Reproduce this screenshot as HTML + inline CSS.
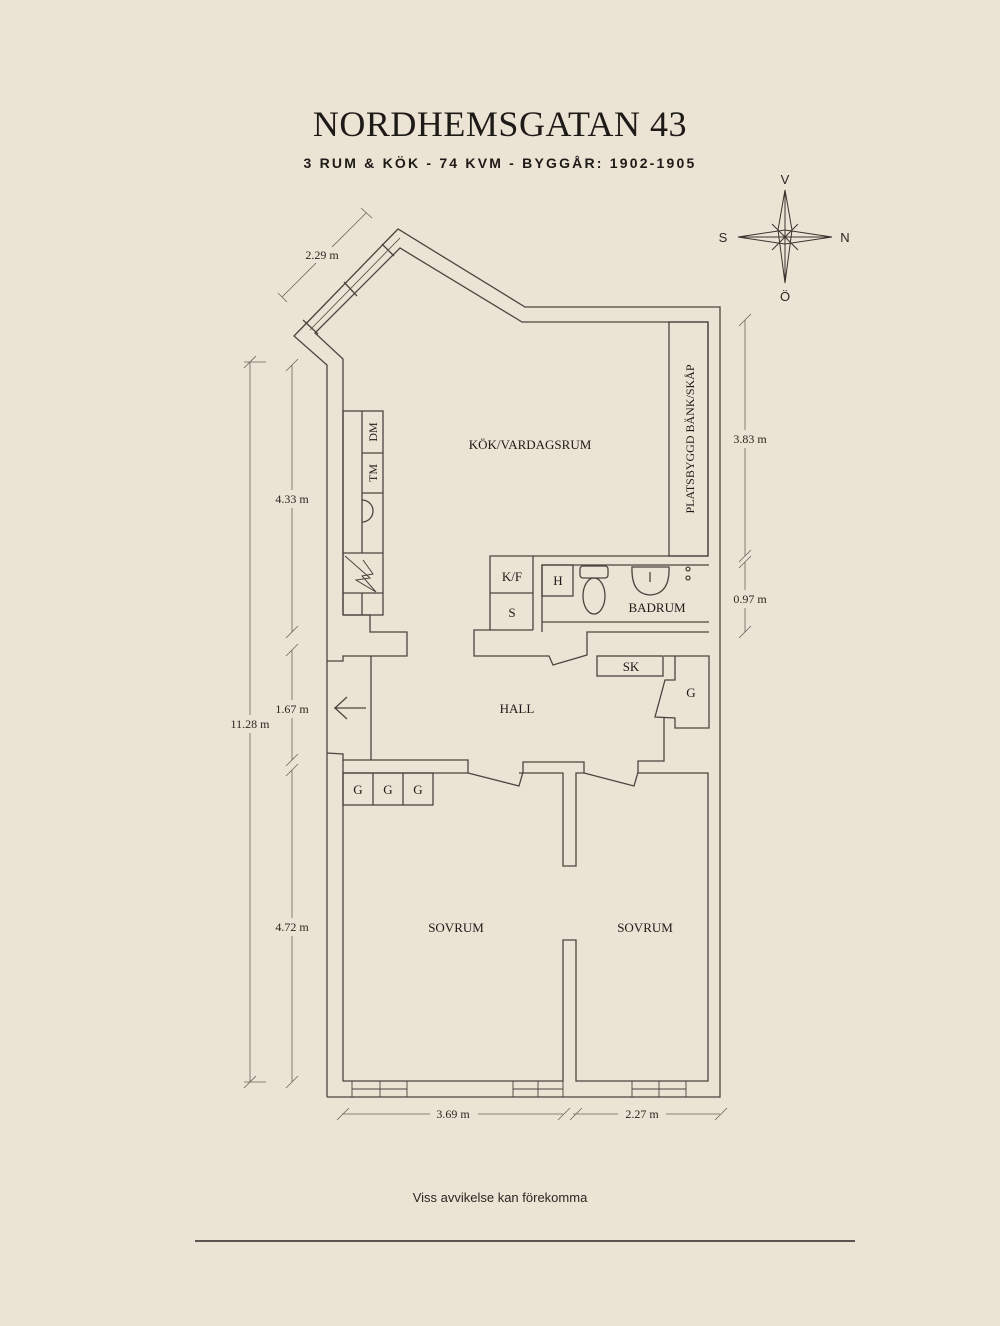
<!DOCTYPE html>
<html><head><meta charset="utf-8"><style>
html,body{margin:0;padding:0;background:#ebe3d3;}
svg{display:block}
</style></head><body>
<svg width="1000" height="1326" viewBox="0 0 1000 1326" xmlns="http://www.w3.org/2000/svg">
<rect width="1000" height="1326" fill="#ebe3d3"/>
<text x="500" y="136" text-anchor="middle" font-family="Liberation Serif, serif" font-size="36" fill="#1e1a17" letter-spacing="0.5">NORDHEMSGATAN 43</text>
<text x="500" y="168" text-anchor="middle" font-family="Liberation Sans, sans-serif" font-weight="bold" font-size="14" fill="#1e1a17" letter-spacing="2.2">3 RUM &amp; KÖK  -  74 KVM  -  BYGGÅR: 1902-1905</text>

<g fill="none" stroke="#4a4540" stroke-width="1.3">
<polyline points="327,1097 327,365 294,336 398,229 525,307 720,307 720,1097 327,1097"/>
<polyline points="343,615 343,359 315,333 400,248 522,322 708,322 708,556 490,556 490,630 474,630 474,656 549,656 553,665 587,655 587,632 709,632"/>
<polyline points="343,615 370,615 370,632 407,632 407,656 371,656 371,760"/>
<rect x="669" y="322" width="39" height="234"/>
<line x1="305" y1="325" x2="398" y2="229" stroke-width="0.8"/>
<line x1="310" y1="330" x2="400" y2="238" stroke-width="0.8"/>
<line x1="303" y1="320" x2="318" y2="334"/>
<line x1="344" y1="282" x2="357" y2="296"/>
<line x1="382" y1="244" x2="394" y2="256"/>
<rect x="343" y="411" width="40" height="204"/>
<line x1="362" y1="411" x2="362" y2="553"/>
<line x1="362" y1="453" x2="383" y2="453"/>
<line x1="362" y1="493" x2="383" y2="493"/>
<line x1="343" y1="553" x2="383" y2="553"/>
<line x1="343" y1="593" x2="383" y2="593"/>
<line x1="362" y1="593" x2="362" y2="615"/>
<path d="M362,500 A11,11 0 0 1 362,522"/>
<polyline points="345,556 370,578 356,580 376,592 362,576 373,574 363,560" stroke-width="1"/>
<line x1="490" y1="593" x2="533" y2="593"/>
<line x1="533" y1="556" x2="533" y2="630"/>
<line x1="490" y1="630" x2="533" y2="630"/>
<polyline points="542,632 542,565 709,565"/>
<polyline points="542,622 709,622"/>
<rect x="542" y="565" width="31" height="31"/>
<rect x="580" y="566" width="28" height="12" rx="3"/>
<ellipse cx="594" cy="596" rx="11" ry="18"/>
<path d="M632,567 L669,567 Q670,594 650,595 Q631,594 632,567Z"/>
<line x1="650" y1="572" x2="650" y2="582"/>
<circle cx="688" cy="569" r="2"/><circle cx="688" cy="578" r="2"/>
<rect x="597" y="656" width="66" height="20"/>
<polyline points="664,656 709,656 709,728 675,728 675,718 655,717 665,680 675,680 675,656"/>
<polyline points="327,661 343,661 343,656 371,656"/>
<polyline points="327,753 343,754 343,760 371,760"/>
<line x1="334" y1="708" x2="366" y2="708"/><polyline points="347,697 335,708 347,719"/>
<polyline points="371,760 468,760 468,773 519,786 523,772 523,762 584,762 584,773 634,786 638,772 638,761 664,761 664,718"/>
<polyline points="343,760 343,1081 563,1081 563,940 576,940 576,1081 708,1081 708,773 638,773"/>
<polyline points="343,773 468,773"/>
<polyline points="519,773 563,773 563,866 576,866 576,773 584,773"/>
<rect x="343" y="773" width="90" height="32"/>
<line x1="373" y1="773" x2="373" y2="805"/><line x1="403" y1="773" x2="403" y2="805"/>
<g stroke-width="0.9">
<rect x="352" y="1081" width="55" height="16"/><line x1="352" y1="1089" x2="407" y2="1089"/><line x1="380" y1="1081" x2="380" y2="1097"/>
<rect x="513" y="1081" width="50" height="16"/><line x1="513" y1="1089" x2="563" y2="1089"/><line x1="538" y1="1081" x2="538" y2="1097"/>
<rect x="632" y="1081" width="54" height="16"/><line x1="632" y1="1089" x2="686" y2="1089"/><line x1="659" y1="1081" x2="659" y2="1097"/>
</g>
</g>

<g fill="none" stroke="#6a655e" stroke-width="0.8">
<line x1="250" y1="362" x2="250" y2="1082"/>
<line x1="244" y1="362" x2="266" y2="362"/><line x1="244" y1="1082" x2="266" y2="1082"/>
<line x1="244" y1="368" x2="256" y2="356"/><line x1="244" y1="1088" x2="256" y2="1076"/>
<line x1="292" y1="365" x2="292" y2="632"/><line x1="292" y1="650" x2="292" y2="760"/><line x1="292" y1="770" x2="292" y2="1082"/>
<line x1="286" y1="371" x2="298" y2="359"/><line x1="286" y1="638" x2="298" y2="626"/>
<line x1="286" y1="656" x2="298" y2="644"/><line x1="286" y1="766" x2="298" y2="754"/>
<line x1="286" y1="776" x2="298" y2="764"/><line x1="286" y1="1088" x2="298" y2="1076"/>
<line x1="745" y1="320" x2="745" y2="556"/><line x1="745" y1="562" x2="745" y2="632"/>
<line x1="739" y1="326" x2="751" y2="314"/><line x1="739" y1="562" x2="751" y2="550"/>
<line x1="739" y1="568" x2="751" y2="556"/><line x1="739" y1="638" x2="751" y2="626"/>
<line x1="282" y1="297" x2="366" y2="213"/>
<line x1="278" y1="293" x2="287" y2="302"/><line x1="361" y1="208" x2="372" y2="218"/>
<line x1="342" y1="1114" x2="563" y2="1114"/><line x1="573" y1="1114" x2="720" y2="1114"/>
<line x1="337" y1="1120" x2="349" y2="1108"/><line x1="558" y1="1120" x2="570" y2="1108"/>
<line x1="570" y1="1120" x2="582" y2="1108"/><line x1="715" y1="1120" x2="727" y2="1108"/>
</g>
<g font-family="Liberation Serif, serif" font-size="12" fill="#2a2622" text-anchor="middle">
<rect x="270" y="490" width="44" height="18" fill="#ebe3d3"/>
<text x="292" y="503">4.33 m</text>
<rect x="270" y="700" width="44" height="18" fill="#ebe3d3"/>
<text x="292" y="713">1.67 m</text>
<rect x="270" y="918" width="44" height="18" fill="#ebe3d3"/>
<text x="292" y="931">4.72 m</text>
<rect x="226" y="715" width="48" height="18" fill="#ebe3d3"/>
<text x="250" y="728">11.28 m</text>
<rect x="726" y="430" width="40" height="18" fill="#ebe3d3"/>
<text x="750" y="443">3.83 m</text>
<rect x="726" y="590" width="40" height="18" fill="#ebe3d3"/>
<text x="750" y="603">0.97 m</text>
<rect x="300" y="247" width="44" height="16" fill="#ebe3d3"/>
<text x="322" y="259">2.29 m</text>
<rect x="430" y="1106" width="48" height="16" fill="#ebe3d3"/>
<text x="453" y="1118">3.69 m</text>
<rect x="618" y="1106" width="48" height="16" fill="#ebe3d3"/>
<text x="642" y="1118">2.27 m</text>
</g>
<g font-family="Liberation Serif, serif" font-size="13" fill="#1e1a17" text-anchor="middle">
<text x="530" y="449">KÖK/VARDAGSRUM</text>
<text x="517" y="713">HALL</text>
<text x="456" y="932">SOVRUM</text>
<text x="645" y="932">SOVRUM</text>
<text x="657" y="612">BADRUM</text>
<text x="512" y="581">K/F</text>
<text x="512" y="617">S</text>
<text x="558" y="585">H</text>
<text x="631" y="671">SK</text>
<text x="691" y="697">G</text>
<text x="358" y="794">G</text><text x="388" y="794">G</text><text x="418" y="794">G</text>
<text transform="translate(377,432) rotate(-90)" font-size="12">DM</text>
<text transform="translate(377,473) rotate(-90)" font-size="12">TM</text>
<text transform="translate(694,439) rotate(-90)" font-size="12">PLATSBYGGD BÄNK/SKÅP</text>
</g>
<g stroke="#3a3530" stroke-width="1" fill="none">
<polygon points="785,190 792,230 785,283 778,230"/>
<polygon points="738,237 785,230 832,237 785,244"/>
<line x1="785" y1="190" x2="785" y2="283"/><line x1="738" y1="237" x2="832" y2="237"/>
<line x1="772" y1="224" x2="798" y2="250"/><line x1="798" y1="224" x2="772" y2="250"/>
</g>
<g font-family="Liberation Sans, sans-serif" font-size="13" fill="#2a2622" text-anchor="middle">
<text x="785" y="184">V</text><text x="723" y="242">S</text><text x="845" y="242">N</text><text x="785" y="301">Ö</text>
</g>
<text x="500" y="1202" text-anchor="middle" font-family="Liberation Sans, sans-serif" font-size="13" fill="#2a2622">Viss avvikelse kan förekomma</text>
<line x1="195" y1="1241" x2="855" y2="1241" stroke="#2a2622" stroke-width="1.5"/>
</svg>
</body></html>
